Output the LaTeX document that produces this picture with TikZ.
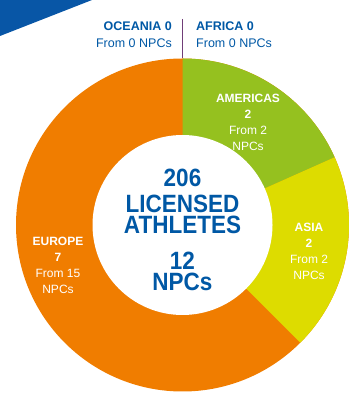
\documentclass[tikz,border=0pt]{standalone}
\usepackage{fontspec}
\usetikzlibrary{calc}
\setmainfont{Liberation Sans}
\newfontfamily\condfont[FakeStretch=0.9]{Liberation Sans}
\definecolor{ipcblue}{RGB}{0,88,165}
\definecolor{bandblue}{RGB}{8,86,166}
\definecolor{europe}{RGB}{240,125,0}
\definecolor{americas}{RGB}{149,193,31}
\definecolor{asia}{RGB}{221,220,0}
\definecolor{divider}{RGB}{112,62,120}
\tikzset{
  region/.style={align=center, text=white, inner sep=0pt, anchor=north,
    font=\fontsize{12}{16}\selectfont},
  zero/.style={text=ipcblue, inner sep=0pt, font=\fontsize{12.5}{17}\selectfont},
  total/.style={align=center, text=ipcblue, inner sep=0pt, anchor=north,
    font=\condfont\bfseries\fontsize{25}{21.5}\selectfont}
}
\begin{document}
\begin{tikzpicture}[x=1pt,y=1pt]
    \useasboundingbox (0,0) rectangle (348,395);
    \fill[bandblue] (0,395) -- (92,395) -- (0,359) -- cycle;
    % donut
    \coordinate (c) at (182.5,170);
    \fill[europe] (c) circle[radius=166.5];
    \fill[americas] (c) -- ++(90:166.5) arc[start angle=90, end angle=24, radius=166.5] -- cycle;
    \fill[asia] (c) -- ++(24:166.5) arc[start angle=24, end angle=-45, radius=166.5] -- cycle;
    \fill[white] (c) circle[radius=90];
    % oceania / africa
    \coordinate (ringtop) at ($(c)+(0,166.5)$);
    \coordinate (linetop) at (182.5,376);
    \draw[divider, line width=1.4pt] (linetop) -- (ringtop);
    \node (oceania) [zero, align=right, anchor=north east] at (172,373) {\bfseries OCEANIA 0\\From 0 NPCs};
    \node (africa) [zero, align=left, anchor=north west] at (196,373) {\bfseries AFRICA 0\\From 0 NPCs};
    % regions
    \node (americaslbl) [region] at (248,301.5) {\bfseries AMERICAS\\\bfseries 2\\From 2\\NPCs};
    \node (asialbl) [region] at (309,172.5) {\bfseries ASIA\\\bfseries 2\\From 2\\NPCs};
    \node (europelbl) [region] at (58,158.5) {\bfseries EUROPE\\\bfseries 7\\From 15\\NPCs};
    % centre
    \node (athletes) [total] at (182.5,226) {206\\[4.3pt]LICENSED\\ATHLETES};
    \node (npcs) [total] at (182.5,143.5) {12\\NPCs};
  \end{tikzpicture}
\end{document}
